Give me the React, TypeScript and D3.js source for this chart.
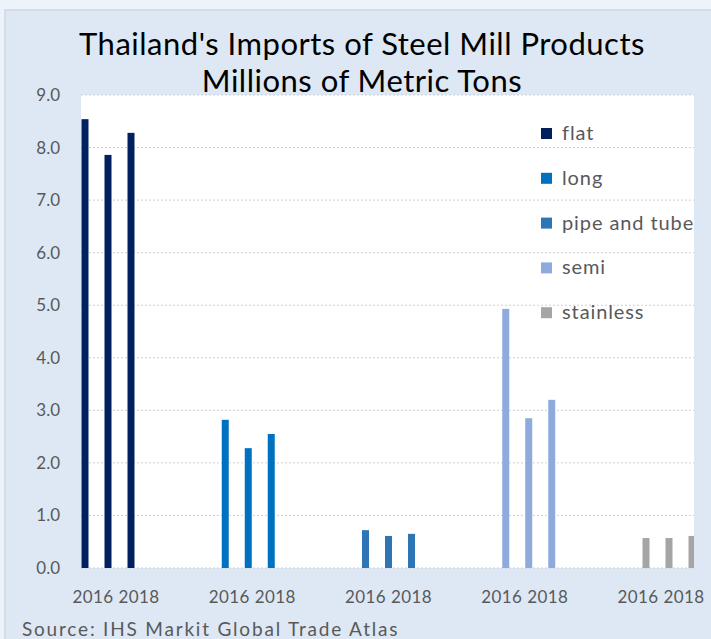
import React, { useRef, useEffect } from 'react';
import * as d3 from 'd3';

const products = ['flat', 'long', 'pipe and tube', 'semi', 'stainless'];
const years = ['2016', '2017', '2018'];
const yearLabels = ['2016', '2018'];
const flat = [8.54, 7.86, 8.28];
const long = [2.82, 2.28, 2.55];
const pipeAndTube = [0.72, 0.61, 0.65];
const semi = [4.93, 2.85, 3.2];
const stainless = [0.57, 0.57, 0.61];
const yTicks = [0, 1, 2, 3, 4, 5, 6, 7, 8, 9];
const colors = ['#002060', '#0070c0', '#2e75b6', '#8faadc', '#a5a5a5'];

const W = 711;
const H = 639;

function App() {
  const svgRef = useRef<SVGSVGElement>(null);

  useEffect(() => {
    const svg = d3.select(svgRef.current);
    svg.selectAll('*').remove();
    const font = 'Lato, "Open Sans", sans-serif';

    const series = [flat, long, pipeAndTube, semi, stainless];
    const left = 81, right = 694, top = 95, bottom = 568;

    // background
    svg.append('rect').attr('width', W).attr('height', H).attr('fill', '#edf3fa');
    svg.append('rect').attr('x', 5).attr('y', 10).attr('width', W + 10).attr('height', H)
      .attr('fill', '#dde8f4').attr('stroke', '#cfd6de').attr('stroke-width', 1.5);
    svg.append('rect').attr('x', left).attr('y', top).attr('width', right - left).attr('height', bottom - top)
      .attr('fill', '#ffffff');

    const y = d3.scaleLinear().domain([0, 9]).range([bottom, top]);
    const x = d3.scalePoint().domain(products).range([108, 669]);
    const inner = d3.scalePoint().domain(years).range([-23, 23]);
    const labelX = d3.scalePoint().domain(products).range([116, 661]);
    const labelInner = d3.scalePoint().domain(yearLabels).range([-23, 23]);

    // gridlines
    svg.append('g').selectAll('line').data(yTicks).join('line')
      .attr('x1', left).attr('x2', right)
      .attr('y1', d => y(d)).attr('y2', d => y(d))
      .attr('stroke', '#d0d0d0').attr('stroke-width', 1)
      .attr('stroke-dasharray', '2,2');

    // y labels
    svg.append('g').selectAll('text').data(yTicks).join('text')
      .attr('x', 60).attr('y', d => y(d)).attr('dy', '0.35em')
      .attr('text-anchor', 'end').attr('font-family', font).attr('font-size', 17)
      .attr('fill', '#595959').text(d => d.toFixed(1));

    // bars
    const bw = 7;
    products.forEach((p, i) => {
      svg.append('g').selectAll('rect').data(series[i]).join('rect')
        .attr('x', (d, j) => (x(p) as number) + (inner(years[j]) as number) - bw / 2)
        .attr('y', d => y(d))
        .attr('width', bw)
        .attr('height', d => bottom - y(d))
        .attr('fill', colors[i]);
    });

    // cover anything past the plot's right edge
    svg.append('rect').attr('x', right).attr('y', top).attr('width', W - right).attr('height', bottom - top + 1)
      .attr('fill', '#dde8f4');

    // x labels
    products.forEach(p => {
      svg.append('g').selectAll('text').data(yearLabels).join('text')
        .attr('x', d => (labelX(p) as number) + (labelInner(d) as number))
        .attr('y', 603)
        .attr('text-anchor', 'middle').attr('font-family', font).attr('font-size', 17)
        .attr('letter-spacing', 0.4)
        .attr('fill', '#595959').text(d => d);
    });

    // legend
    const legend = svg.append('g').selectAll('g').data(products).join('g')
      .attr('transform', (d, i) => `translate(541, ${133 + i * 44.8})`);
    legend.append('rect').attr('x', 0).attr('y', -5).attr('width', 11).attr('height', 11)
      .attr('fill', (d, i) => colors[i]);
    legend.append('text').attr('x', 21).attr('y', 0).attr('dy', '0.35em')
      .attr('font-family', font).attr('font-size', 20).attr('letter-spacing', 0.9)
      .attr('fill', '#595959')
      .text(d => d);

    // title
    const title = svg.append('text').attr('text-anchor', 'middle').attr('font-family', font)
      .attr('font-size', 31).attr('letter-spacing', 0.5).attr('fill', '#000');
    title.append('tspan').attr('x', 362).attr('y', 55).text("Thailand's Imports of Steel Mill Products");
    title.append('tspan').attr('x', 362).attr('y', 92).text('Millions of Metric Tons');

    // source
    svg.append('text').attr('x', 22).attr('y', 636).attr('font-family', font).attr('font-size', 19)
      .attr('letter-spacing', 1.8).attr('fill', '#595959').text('Source: IHS Markit Global Trade Atlas');
  }, []);

  return (
    <div style={{ position: 'absolute', left: 0, top: 0 }}>
      <svg ref={svgRef} width={W} height={H} style={{ display: 'block' }}></svg>
    </div>
  );
}

export default App;
